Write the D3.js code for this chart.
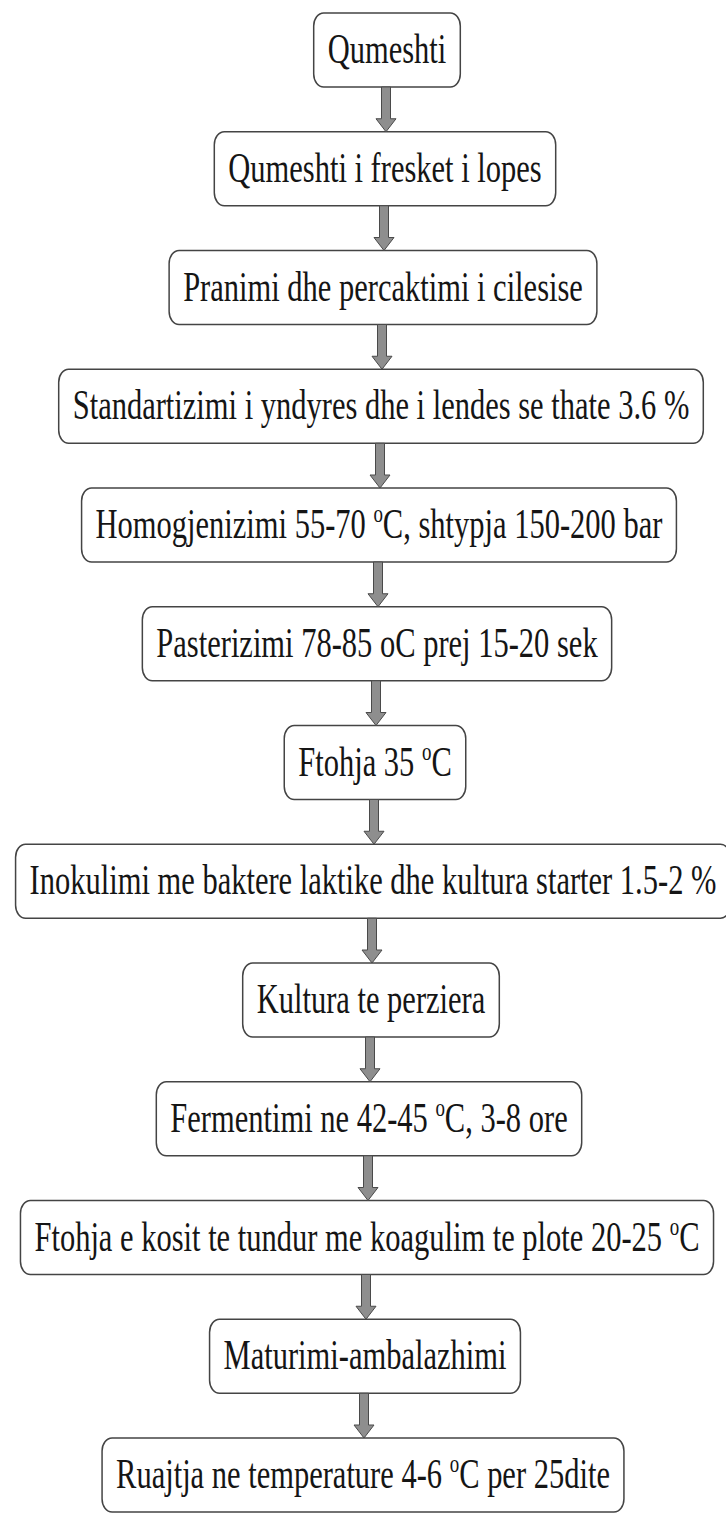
<!DOCTYPE html>
<html>
<head>
<meta charset="utf-8">
<script src="https://cdn.jsdelivr.net/npm/d3@7"></script>
<style>
  html, body { margin: 0; padding: 0; background: #fff; }
  svg { display: block; }
</style>
</head>
<body>
<script>
// process steps, top to bottom ("º" marks a raised small o)
var steps = [
  "Qumeshti",
  "Qumeshti i fresket i lopes",
  "Pranimi dhe percaktimi i cilesise",
  "Standartizimi i yndyres dhe i lendes se thate 3.6 %",
  "Homogjenizimi 55-70 ºC, shtypja 150-200 bar",
  "Pasterizimi 78-85 oC prej 15-20 sek",
  "Ftohja 35 ºC",
  "Inokulimi me baktere laktike dhe kultura starter 1.5-2 %",
  "Kultura te perziera",
  "Fermentimi ne 42-45 ºC, 3-8 ore",
  "Ftohja e kosit te tundur me koagulim te plote 20-25 ºC",
  "Maturimi-ambalazhimi",
  "Ruajtja ne temperature 4-6 ºC per 25dite"
];
var links = d3.range(steps.length - 1).map(function(i) { return {source: i, target: i + 1}; });

var width = 726, height = 1513;
var boxH = 74, pad = 28, fontSize = 30.5, stretch = 1.37;

var svg = d3.select("body").append("svg")
    .attr("width", width)
    .attr("height", height);

// step index -> top of box / centre line (the scan drifts a little to the left)
var y = d3.scaleLinear()
    .domain([0, steps.length - 1])
    .range([13, 1438]);

var x = d3.scaleLinear()
    .domain([0, steps.length - 1])
    .range([387, 363]);

var node = svg.selectAll("g.step")
    .data(steps)
  .enter().append("g")
    .attr("class", "step");

var rects = node.append("rect")
    .attr("fill", "#fff")
    .attr("stroke", "#444")
    .attr("stroke-width", 1.5)
    .attr("rx", 10)
    .attr("ry", 13);

var label = node.append("text")
    .attr("text-anchor", "middle")
    .attr("font-family", "'Liberation Serif', 'Times New Roman', serif")
    .attr("font-size", fontSize)
    .attr("fill", "#151515")
    .attr("transform", function(d, i) {
      return "translate(" + x(i) + "," + (y(i) + boxH / 2 + 13) + ") scale(1," + stretch + ")";
    });

label.each(function(d) {
  var t = d3.select(this);
  var parts = d.split("º");
  parts.forEach(function(p, k) {
    if (k > 0) {
      t.append("tspan")
          .attr("font-size", fontSize * 0.62)
          .attr("dy", -11.5)
          .text("o");
      t.append("tspan")
          .attr("dy", 11.5)
          .text(p);
    } else {
      t.append("tspan").text(p);
    }
  });
});

rects.each(function(d, i) {
  var w = this.parentNode.querySelector("text").getComputedTextLength() + pad;
  d3.select(this)
      .attr("x", x(i) - w / 2)
      .attr("y", y(i))
      .attr("width", w)
      .attr("height", boxH);
});

// arrows between boxes
var arrow = d3.line();
var shaft = 4.5, head = 10, headLen = 13;

svg.selectAll("path.arrow")
    .data(links)
  .enter().append("path")
    .attr("class", "arrow")
    .attr("fill", "#8e8e8e")
    .attr("stroke", "#4a4a4a")
    .attr("stroke-width", 1)
    .attr("d", function(d) {
      var cx = x(d.source + 0.5),
          y0 = y(d.source) + boxH,
          y1 = y(d.target);
      return arrow([
        [cx - shaft, y0], [cx + shaft, y0], [cx + shaft, y1 - headLen],
        [cx + head, y1 - headLen], [cx, y1], [cx - head, y1 - headLen],
        [cx - shaft, y1 - headLen]
      ]) + "Z";
    });
</script>
</body>
</html>
